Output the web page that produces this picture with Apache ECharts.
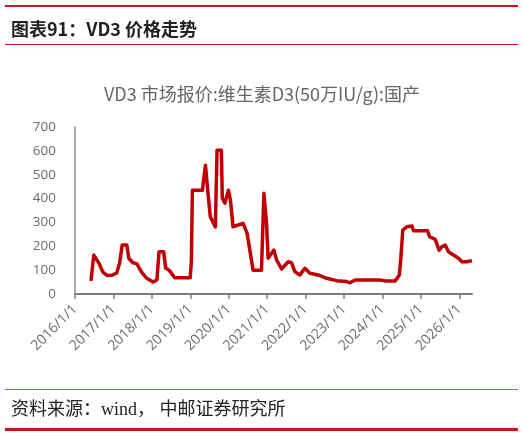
<!DOCTYPE html>
<html>
<head>
<meta charset="utf-8">
<script src="https://cdn.jsdelivr.net/npm/echarts@6/dist/echarts.min.js"></script>
<style>
  html, body { margin: 0; padding: 0; background: #fff; }
  #chart { width: 525px; height: 436px; }
</style>
</head>
<body>
<div id="chart"></div>
<script>
// VD3 报价 (元/kg)，日期读自原图
const dates = [
  '2016-06-01', '2016-06-28', '2016-08-15', '2016-09-22', '2016-11-05', '2016-12-25',
  '2017-02-01', '2017-03-01', '2017-03-25', '2017-05-08', '2017-05-27', '2017-07-05',
  '2017-08-12', '2017-09-24', '2017-11-10', '2018-01-12', '2018-02-18', '2018-03-10',
  '2018-04-23', '2018-05-12', '2018-06-18', '2018-08-05', '2018-12-31', '2019-01-11',
  '2019-01-21', '2019-04-26', '2019-05-25', '2019-06-18', '2019-07-10', '2019-08-27',
  '2019-09-12', '2019-10-23', '2019-11-01', '2019-11-26', '2019-12-29', '2020-01-17',
  '2020-02-11', '2020-05-17', '2020-06-24', '2020-08-20', '2020-11-08', '2020-12-01',
  '2020-12-26', '2021-01-10', '2021-01-26', '2021-03-06', '2021-04-01', '2021-05-18',
  '2021-07-20', '2021-08-21', '2021-09-22', '2021-11-08', '2021-12-25', '2022-02-11',
  '2022-05-01', '2022-07-20', '2022-10-23', '2023-01-26', '2023-02-27', '2023-04-16',
  '2023-12-09', '2024-01-26', '2024-05-01', '2024-06-10', '2024-06-24', '2024-07-13',
  '2024-08-20', '2024-10-08', '2024-10-23', '2025-03-05', '2025-03-25', '2025-05-17',
  '2025-06-23', '2025-07-19', '2025-08-20', '2025-09-20', '2025-11-06', '2025-12-24',
  '2026-01-26', '2026-03-14', '2026-05-01'
];
const prices = [
  55, 163, 130, 92, 77, 80,
  88, 130, 205, 205, 150, 131,
  126, 93, 67, 50, 59, 177,
  177, 109, 98, 68, 68, 135,
  435, 435, 540, 423, 324, 281,
  603, 603, 402, 381, 435, 394,
  282, 296, 254, 100, 100, 422,
  297, 150, 142, 184, 142, 105,
  135, 131, 93, 80, 108, 87,
  80, 66, 56, 52, 47, 59,
  59, 55, 55, 80, 150, 268,
  282, 285, 265, 265, 240, 229,
  184, 198, 205, 177, 163, 150,
  135, 135, 140
];
const yearTicks = [2016, 2017, 2018, 2019, 2020, 2021, 2022, 2023, 2024, 2025, 2026];

// 日期 -> 小数年份，方便在数值轴上按年刻度
function toYear(s) {
  const d = new Date(s + 'T00:00:00Z');
  const y = d.getUTCFullYear();
  const start = Date.UTC(y, 0, 1), end = Date.UTC(y + 1, 0, 1);
  return y + (d.getTime() - start) / (end - start);
}

const seriesData = dates.map((d, i) => [toYear(d), prices[i]]);

const myChart = echarts.init(document.getElementById('chart'));
const option = {
  animation: false,
  backgroundColor: '#fff',
  title: [{
    text: '图表91：VD3 价格走势',
    left: 6,
    top: 15,
    textStyle: { fontFamily: 'Noto Sans CJK SC', fontSize: 18, fontWeight: 'bold', color: '#222' }
  }, {
    text: 'VD3 市场报价:维生素D3(50万IU/g):国产',
    left: 257,
    top: 80,
    textAlign: 'center',
    textStyle: { fontFamily: 'Noto Sans CJK SC', fontSize: 18, fontWeight: 'normal', color: '#666' }
  }, {
    text: '资料来源：wind， 中邮证券研究所',
    left: 6,
    top: 396,
    textStyle: { fontFamily: "'Liberation Serif', 'Noto Sans CJK SC'", fontSize: 18, fontWeight: 'normal', color: '#222' }
  }],
  graphic: [
    { type: 'rect', shape: { x: 5, y: 5, width: 513, height: 2 }, style: { fill: '#C8161D' } },
    { type: 'rect', shape: { x: 5, y: 44, width: 513, height: 1 }, style: { fill: '#C8161D' } },
    { type: 'rect', shape: { x: 5, y: 389, width: 513, height: 1 }, style: { fill: '#D9534F' } },
    { type: 'rect', shape: { x: 5, y: 428, width: 513, height: 3 }, style: { fill: '#C8161D' } }
  ],
  grid: { left: 75, right: 53, top: 127, bottom: 142 },
  xAxis: {
    type: 'value',
    min: 2016,
    max: 2026.33,
    splitLine: { show: false },
    axisLine: { lineStyle: { color: '#7f7f7f', width: 2 } },
    axisTick: { length: 5, customValues: yearTicks, lineStyle: { color: '#7f7f7f', width: 1.5 } },
    axisLabel: {
      customValues: yearTicks,
      rotate: 45,
      margin: 13,
      color: '#6b6b6b',
      fontFamily: 'Open Sans',
      fontSize: 14,
      formatter: v => v + '/1/1'
    }
  },
  yAxis: {
    type: 'value',
    min: 0,
    max: 700,
    interval: 100,
    splitLine: { show: false },
    axisLine: { show: true, lineStyle: { color: '#8c8c8c', width: 1.5 } },
    axisTick: { show: false },
    axisLabel: { margin: 19, color: '#6b6b6b', fontFamily: 'Open Sans', fontSize: 13.5 }
  },
  series: [{
    type: 'line',
    data: seriesData,
    showSymbol: false,
    lineStyle: { color: '#C00000', width: 3.5, join: 'round' },
    itemStyle: { color: '#C00000' }
  }]
};
myChart.setOption(option);
</script>
</body>
</html>
